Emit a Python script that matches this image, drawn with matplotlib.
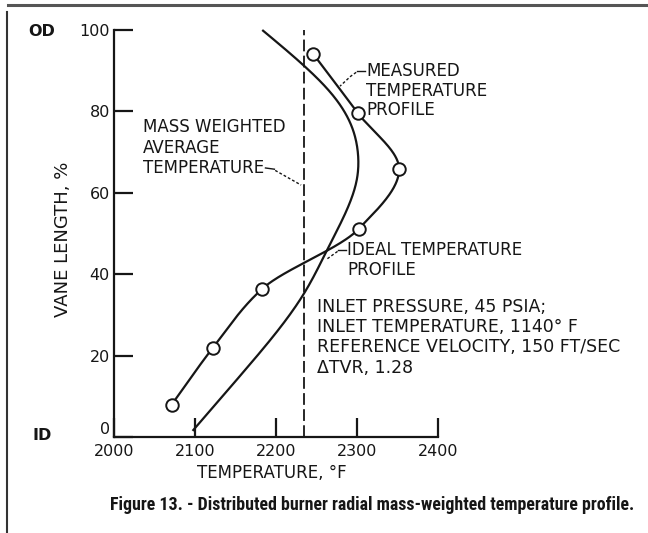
import numpy as np
import matplotlib.pyplot as plt
from matplotlib.lines import Line2D
from matplotlib import font_manager

# measured temperature profile (open circles)
meas_temp = [2246, 2301, 2352, 2302, 2183, 2122, 2071]
meas_vane = [94.1, 79.6, 65.8, 51.1, 36.4, 21.9, 7.9]

# ideal temperature profile
ideal_temp = [2183, 2233, 2270, 2292, 2301, 2300, 2291, 2265, 2235, 2162, 2097]
ideal_vane = [100, 91.5, 84, 77, 70, 63.5, 57.5, 46.7, 35.4, 16.5, 1.5]

mass_avg_temp = 2234

x_ticks = [2000, 2100, 2200, 2300, 2400]
y_ticks = [0, 20, 40, 60, 80, 100]

conditions = ["INLET PRESSURE, 45 PSIA;",
              "INLET TEMPERATURE, 1140° F",
              "REFERENCE VELOCITY, 150 FT/SEC",
              "ΔTVR, 1.28"]

INK = "#161616"


def _sorted(temp, vane):
    y = np.array(vane, float)
    x = np.array(temp, float)
    order = np.argsort(y)
    return x[order], y[order]


def spline_by_vane(temp, vane, n=400):
    # natural cubic spline of temperature as a function of vane length
    x, y = _sorted(temp, vane)
    h = np.diff(y)
    k = len(y)
    A = np.zeros((k, k))
    b = np.zeros(k)
    A[0, 0] = A[-1, -1] = 1
    for i in range(1, k - 1):
        A[i, i - 1] = h[i - 1]
        A[i, i] = 2 * (h[i - 1] + h[i])
        A[i, i + 1] = h[i]
        b[i] = 3 * ((x[i + 1] - x[i]) / h[i] - (x[i] - x[i - 1]) / h[i - 1])
    c = np.linalg.solve(A, b)
    yy = np.linspace(y[0], y[-1], n)
    idx = np.clip(np.searchsorted(y, yy) - 1, 0, k - 2)
    d = yy - y[idx]
    bb = (x[idx + 1] - x[idx]) / h[idx] - h[idx] * (2 * c[idx] + c[idx + 1]) / 3
    dd = (c[idx + 1] - c[idx]) / (3 * h[idx])
    return x[idx] + bb * d + c[idx] * d ** 2 + dd * d ** 3, yy


def pchip_by_vane(temp, vane, n=400):
    # shape preserving curve through the measured points (no overshoot)
    x, y = _sorted(temp, vane)
    h = np.diff(y)
    delta = np.diff(x) / h
    k = len(y)
    m = np.zeros(k)
    m[0], m[-1] = delta[0], delta[-1]
    for i in range(1, k - 1):
        if delta[i - 1] * delta[i] > 0:
            w1 = 2 * h[i] + h[i - 1]
            w2 = h[i] + 2 * h[i - 1]
            m[i] = (w1 + w2) / (w1 / delta[i - 1] + w2 / delta[i])
    yy = np.linspace(y[0], y[-1], n)
    idx = np.clip(np.searchsorted(y, yy) - 1, 0, k - 2)
    t = (yy - y[idx]) / h[idx]
    h00 = 2 * t ** 3 - 3 * t ** 2 + 1
    h10 = t ** 3 - 2 * t ** 2 + t
    h01 = -2 * t ** 3 + 3 * t ** 2
    h11 = t ** 3 - t ** 2
    xx = (h00 * x[idx] + h10 * h[idx] * m[idx]
          + h01 * x[idx + 1] + h11 * h[idx] * m[idx + 1])
    return xx, yy


W, H = 648, 533
fig = plt.figure(figsize=(W / 100, H / 100), dpi=100)
fig.patch.set_facecolor("white")
ax = fig.add_axes([114 / W, 96 / H, 324 / W, 407 / H])
ax.set_xlim(2000, 2400)
ax.set_ylim(0, 100)

# curves
xs, ys = spline_by_vane(ideal_temp, ideal_vane)
ax.plot(xs, ys, color=INK, lw=1.6, clip_on=False, solid_capstyle="butt")
xs, ys = pchip_by_vane(meas_temp, meas_vane)
ax.plot(xs, ys, color=INK, lw=1.6, clip_on=False)
ax.plot(meas_temp, meas_vane, ls="none", marker="o", ms=9, mfc="white",
        mec=INK, mew=1.4, zorder=5, clip_on=False)

ax.axvline(mass_avg_temp, color=INK, lw=1.3, dashes=(6.5, 2.4))

# axes look
for s in ["top", "right"]:
    ax.spines[s].set_visible(False)
for s in ["left", "bottom"]:
    ax.spines[s].set_linewidth(1.6)
    ax.spines[s].set_color(INK)
ax.set_xticks(x_ticks)
ax.set_yticks(y_ticks)
ax.tick_params(direction="in", length=14, width=1.6, colors=INK,
               labelsize=11.5)
ax.tick_params(axis="x", pad=5)
ax.tick_params(axis="y", pad=3)
ax.get_yticklabels()[0].set_va("bottom")

ax.set_xlabel("TEMPERATURE, °F", fontsize=12, color=INK)
ax.xaxis.set_label_coords(0.488, -0.066)
ax.set_ylabel("VANE LENGTH, %", fontsize=13, color=INK)
ax.yaxis.set_label_coords(-0.13, 0.485)

fig.text(42 / W, 1 - 31 / H, "OD", fontsize=11.5, fontweight="bold", color=INK,
         ha="center", va="center")
fig.text(42 / W, 1 - 435 / H, "ID", fontsize=11.5, fontweight="bold", color=INK,
         ha="center", va="center")

# labels and leaders
tk = dict(fontsize=12, color=INK, va="center", ha="left")
ax.text(2311, 90, "MEASURED", **tk)
ax.text(2311, 85, "TEMPERATURE", **tk)
ax.text(2311, 80.3, "PROFILE", **tk)
ax.plot([2300, 2310], [89.9, 89.9], color=INK, lw=1)
ax.plot([2299, 2292, 2279], [89.6, 88.6, 86.2], color=INK, lw=1, ls=(0, (2, 1.5)))

ax.text(2036, 76.2, "MASS WEIGHTED", **tk)
ax.text(2036, 71.0, "AVERAGE", **tk)
ax.text(2036, 66.1, "TEMPERATURE", **tk)
ax.plot([2187, 2198], [66.1, 65.8], color=INK, lw=1)
ax.plot([2199, 2231], [65.5, 61.9], color=INK, lw=1, ls=(0, (2, 1.5)))

ax.text(2288, 45.9, "IDEAL TEMPERATURE", **tk)
ax.text(2288, 41.0, "PROFILE", **tk)
ax.plot([2277, 2286], [45.9, 45.9], color=INK, lw=1)
ax.plot([2276, 2262], [45.6, 43.6], color=INK, lw=1, ls=(0, (2, 1.5)))

for i, line in enumerate(conditions):
    ax.text(2251, 31.9 - 4.95 * i, line, fontsize=12.5, color=INK,
            va="center", ha="left")

# caption, in a narrow face if one is installed, fitted to the page width
names = {f.name for f in font_manager.fontManager.ttflist}
narrow = [n for n in ["Liberation Sans Narrow", "DejaVu Sans Condensed",
                      "Roboto Condensed", "Open Sans Condensed"] if n in names]
cap = fig.text(110 / W, 1 - 505 / H,
               "Figure 13. - Distributed burner radial mass-weighted temperature profile.",
               fontsize=12.5, fontweight="bold", color=INK, va="center", ha="left",
               family=narrow + ["Roboto", "DejaVu Sans"], fontstretch="condensed")
fig.canvas.draw()
w = cap.get_window_extent().width
cap.set_fontsize(cap.get_fontsize() * 526 / w)

# scanned page frame
fig.add_artist(Line2D([8 / W, 1], [1 - 5 / H, 1 - 5 / H], color="#555555", lw=2.2))
fig.add_artist(Line2D([7 / W, 7 / W], [0, 1 - 12 / H], color="#333333", lw=1.5))

fig.savefig("out.png", dpi=100, facecolor="white")
